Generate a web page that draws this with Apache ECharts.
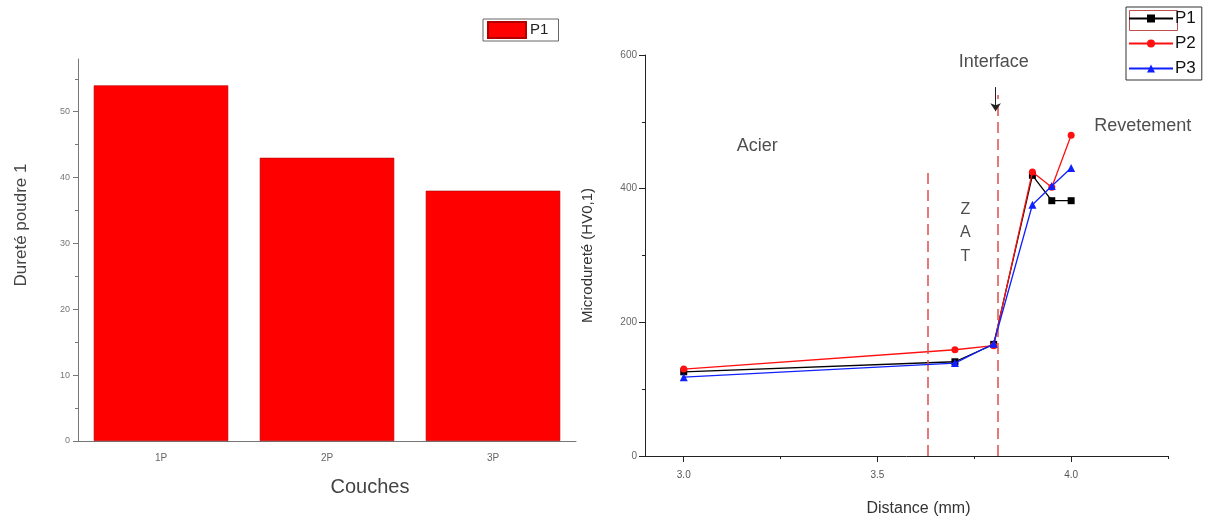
<!DOCTYPE html>
<html>
<head>
<meta charset="utf-8">
<script src="https://cdn.jsdelivr.net/npm/echarts@6/dist/echarts.min.js"></script>
<style>
html,body{margin:0;padding:0;background:#fff;}
#c{width:1216px;height:527px;}
</style>
</head>
<body>
<div id="c"></div>
<script>
// Left chart data
const couches = ['1P', '2P', '3P'];
const durete = [54, 43, 38];
// Right chart data
const distance = [3.0, 3.7, 3.8, 3.9, 3.95, 4.0];
const p1 = [126, 141, 167, 420, 382, 382];
const p2 = [130, 159, 165, 425, 402, 480];
const p3 = [118, 139, 168, 376, 404, 431];
const leftTicks = [0, 10, 20, 30, 40, 50];
const leftMinor = [5, 15, 25, 35, 45, 55];
// Annotations (data coordinates)
const notes = [
  {text: 'Acier', x: 3.19, y: 464},
  {text: 'Interface', x: 3.80, y: 590},
  {text: 'Revetement', x: 4.185, y: 494}
];
const zatLetters = [
  {text: 'Z', x: 3.727, y: 368},
  {text: 'A', x: 3.727, y: 334},
  {text: 'T', x: 3.727, y: 298}
];
const zones = [3.63, 3.81];

const chart = echarts.init(document.getElementById('c'));
const font = 'Liberation Sans, Arial, sans-serif';
const grey = '#777';

const pair = (xs, ys) => xs.map((x, i) => [x, ys[i]]);

chart.setOption({
  animation: false,
  textStyle: {fontFamily: font},
  grid: [
    {left: 78, right: 640, top: 59, bottom: 86},
    {left: 645, right: 48, top: 55, bottom: 71}
  ],
  legend: [
    {
      data: [{name: 'P1 ', icon: 'rect'}], left: 483, top: 19, itemWidth: 38, itemHeight: 16, itemGap: 4,
      padding: [2, 6, 2, 4], borderColor: '#666', borderWidth: 1,
      textStyle: {fontSize: 15, color: '#222', fontFamily: font, padding: [0, 0, 0, -1]}
    },
    {
      data: ['P1', 'P2', 'P3'], orient: 'vertical', left: 1126, top: 7,
      itemWidth: 44, itemHeight: 10, itemGap: 8,
      padding: [3, 6, 3, 2], borderColor: '#333', borderWidth: 1,
      textStyle: {fontSize: 17, color: '#111', fontFamily: font, padding: [0, 0, 0, -3]}
    }
  ],
  xAxis: [
    {
      type: 'category', gridIndex: 0, data: couches,
      axisLine: {lineStyle: {color: grey}},
      axisTick: {alignWithLabel: true, length: 6, lineStyle: {color: grey}},
      axisLabel: {color: '#666', fontSize: 10, margin: 12},
      name: 'Couches', nameLocation: 'middle', nameGap: 36,
      nameTextStyle: {fontSize: 20, color: '#444', padding: [0, 0, 0, 86]}
    },
    {
      type: 'value', gridIndex: 1, min: 2.9, max: 4.25, interval: 0.5,
      axisLine: {lineStyle: {color: '#222'}},
      axisTick: {show: true, length: 6, lineStyle: {color: '#222'}, customValues: [3.0, 3.5, 4.0]},
      minorTick: {show: false},
      axisLabel: {color: '#555', fontSize: 10, margin: 14,
        customValues: [3.0, 3.5, 4.0],
        formatter: v => v.toFixed(1)},
      splitLine: {show: false},
      name: 'Distance (mm)', nameLocation: 'middle', nameGap: 45,
      nameTextStyle: {fontSize: 16, color: '#333', padding: [0, 0, 0, 24]}
    },
    {
      type: 'value', gridIndex: 1, min: 2.9, max: 4.25, position: 'bottom',
      axisLine: {show: false},
      axisTick: {show: true, length: 3, lineStyle: {color: '#222'}, customValues: [3.25, 3.75, 4.25]},
      axisLabel: {show: false}, splitLine: {show: false}
    }
  ],
  yAxis: [
    {
      type: 'value', gridIndex: 0, min: 0, max: 58, interval: 10, position: 'left',
      axisLine: {show: true, lineStyle: {color: grey}},
      axisTick: {show: true, length: 5, lineStyle: {color: grey}, customValues: leftTicks},
      minorTick: {show: false},
      axisLabel: {color: '#777', fontSize: 9, margin: 8, customValues: leftTicks},
      splitLine: {show: false},
      name: 'Dureté poudre 1', nameLocation: 'middle', nameGap: 48,
      nameTextStyle: {fontSize: 17, color: '#444', padding: [0, 0, 0, 50]}
    },
    {
      type: 'value', gridIndex: 0, min: 0, max: 58, position: 'left',
      axisLine: {show: false},
      axisTick: {show: true, length: 3, lineStyle: {color: grey}, customValues: leftMinor},
      axisLabel: {show: false}, splitLine: {show: false}
    },
    {
      type: 'value', gridIndex: 1, min: 0, max: 600, interval: 200,
      axisLine: {show: true, lineStyle: {color: '#222'}},
      axisTick: {show: true, length: 6, lineStyle: {color: '#222'}},
      minorTick: {show: true, splitNumber: 2, length: 3, lineStyle: {color: '#222'}},
      axisLabel: {color: '#666', fontSize: 10, margin: 8},
      splitLine: {show: false},
      name: 'Microdureté (HV0,1)', nameLocation: 'middle', nameGap: 50,
      nameTextStyle: {fontSize: 15, color: '#333'}
    }
  ],
  series: [
    {
      name: 'P1 ', type: 'bar', xAxisIndex: 0, yAxisIndex: 0, data: durete,
      barCategoryGap: '19%',
      itemStyle: {color: '#ff0000', borderColor: '#b00000', borderWidth: 0.6}
    },
    {
      name: 'P1', type: 'line', xAxisIndex: 1, yAxisIndex: 2, data: pair(distance, p1),
      symbol: 'rect', symbolSize: 7, lineStyle: {color: '#000', width: 1.3},
      itemStyle: {color: '#000'}, z: 3,
      markLine: {
        silent: true, symbol: 'none', label: {show: false},
        lineStyle: {color: '#e05858', type: [11, 6], width: 1.6},
        data: [
          [{coord: [zones[0], 0]}, {coord: [zones[0], 425]}],
          [{coord: [zones[1], 0]}, {coord: [zones[1], 540]}]
        ]
      }
    },
    {
      name: 'P2', type: 'line', xAxisIndex: 1, yAxisIndex: 2, data: pair(distance, p2),
      symbol: 'circle', symbolSize: 7, lineStyle: {color: '#ff1010', width: 1.3},
      itemStyle: {color: '#ff1010'}, z: 4
    },
    {
      name: 'P3', type: 'line', xAxisIndex: 1, yAxisIndex: 2, data: pair(distance, p3),
      symbol: 'triangle', symbolSize: 8, lineStyle: {color: '#1020ff', width: 1.3},
      itemStyle: {color: '#1020ff'}, z: 5,
      markLine: {
        silent: true, symbol: ['none', 'arrow'], symbolSize: 8, label: {show: false},
        lineStyle: {color: '#222', type: 'solid', width: 1},
        data: [[{coord: [3.805, 552], itemStyle: {color: '#222'}}, {coord: [3.805, 516], itemStyle: {color: '#222'}}]]
      }
    },
    {
      name: 'notes', type: 'scatter', xAxisIndex: 1, yAxisIndex: 2,
      symbolSize: 0, silent: true,
      data: notes.map(n => ({value: [n.x, n.y], name: n.text})),
      label: {show: true, position: 'inside', formatter: p => p.name,
        fontSize: 18, color: '#222', fontFamily: font}
    },
    {
      name: 'zat', type: 'scatter', xAxisIndex: 1, yAxisIndex: 2,
      symbolSize: 0, silent: true,
      data: zatLetters.map(n => ({value: [n.x, n.y], name: n.text})),
      label: {show: true, position: 'inside', formatter: p => p.name,
        fontSize: 16, color: '#222', fontFamily: font}
    }
  ]
});

// selection frame around the P1 entry line in the right legend
chart.setOption({
  graphic: [{
    type: 'rect', left: 1127, top: 8, shape: {width: 48, height: 20},
    style: {fill: 'none', stroke: '#c05050', lineWidth: 1}, silent: true
  }]
});
</script>
</body>
</html>
